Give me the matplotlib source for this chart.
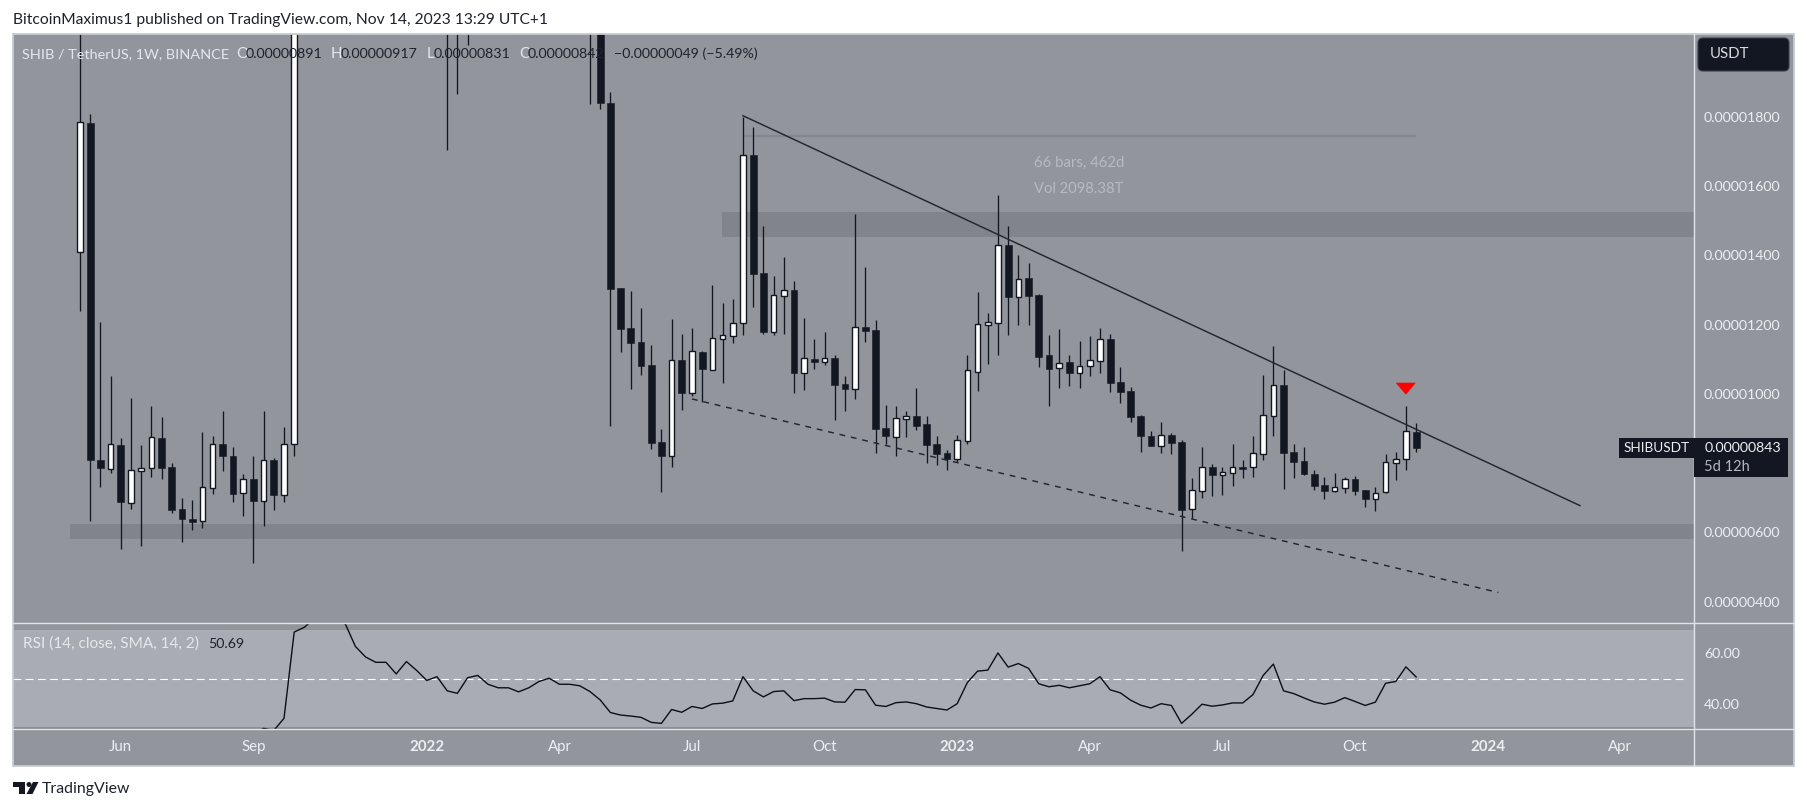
import numpy as np
import matplotlib
matplotlib.use('Agg')
import matplotlib.pyplot as plt
from matplotlib.patches import FancyBboxPatch, Rectangle, Polygon, Circle

plt.rcParams['font.family'] = ['Lato', 'DejaVu Sans']

nan = float('nan')

# weekly candles, prices in 1e-6 USDT, nan = off the top of the chart
opens = [14.09, 17.82, 8.09, 7.84, 8.52, 6.84, 7.78, 7.85, 8.73, 7.89,
         6.67, 6.39, 6.32, 7.29, 8.55, 8.20, 7.13, 7.54, 6.89, 8.09,
         7.09, 8.54, nan, nan, nan, nan, nan, nan, nan, nan,
         nan, nan, nan, nan, nan, nan, nan, nan, nan, nan,
         nan, nan, nan, nan, nan, nan, nan, nan, nan, nan,
         nan, 24.00, 18.40, 13.05, 11.90, 11.50, 10.83, 8.61, 8.21, 10.98,
         10.03, 11.20, 10.70, 11.59, 11.68, 12.04, 16.90, 13.49, 11.79, 12.83,
         13.00, 10.61, 11.01, 10.93, 11.03, 10.28, 10.15, 11.93, 11.84, 9.01,
         8.76, 9.28, 9.36, 9.13, 8.55, 8.29, 8.13, 8.65, 10.64, 11.99,
         12.05, 14.30, 12.80, 13.33, 12.85, 11.12, 10.73, 10.91, 10.61, 10.79,
         10.96, 11.58, 10.34, 10.08, 9.36, 8.77, 8.50, 8.81, 8.61, 6.66,
         7.20, 7.89, 7.64, 7.72, 7.89, 7.88, 8.27, 9.37, 10.26, 8.32,
         8.06, 7.69, 7.37, 7.20, 7.29, 7.54, 7.22, 6.97, 7.15, 8.01,
         8.13, 8.91]
highs = [22.00, 18.08, 12.07, 10.52, 8.73, 9.88, 8.52, 9.65, 9.33, 7.99,
         6.99, 6.93, 8.90, 8.78, 9.50, 8.47, 7.69, 8.21, 9.50, 8.14,
         9.04, 27.00, nan, nan, nan, nan, nan, nan, nan, nan,
         nan, nan, nan, nan, nan, nan, 30.00, 30.00, 30.00, nan,
         nan, nan, nan, nan, nan, nan, nan, nan, nan, nan,
         30.00, 25.00, 18.71, 13.05, 12.97, 12.48, 11.41, 8.98, 12.16, 11.73,
         11.90, 11.24, 13.14, 12.61, 12.74, 18.00, 17.70, 14.85, 13.40, 13.95,
         13.26, 12.19, 11.58, 11.79, 11.12, 10.52, 15.19, 13.66, 12.13, 9.68,
         9.65, 9.50, 10.17, 9.36, 8.78, 8.38, 8.81, 11.12, 12.94, 12.33,
         15.74, 14.85, 14.01, 13.77, 12.88, 11.70, 11.86, 11.12, 11.53, 11.67,
         11.90, 11.73, 10.77, 10.20, 9.40, 8.92, 9.18, 8.87, 8.67, 7.56,
         8.47, 7.97, 7.88, 8.55, 8.09, 8.77, 10.54, 11.38, 10.69, 8.55,
         8.47, 7.80, 7.60, 7.71, 7.60, 7.63, 7.22, 7.31, 8.26, 8.32,
         9.65, 9.17]
lows = [12.39, 6.33, 7.32, 7.72, 5.53, 6.68, 5.61, 7.61, 7.54, 6.57,
        5.73, 6.07, 6.13, 7.11, 7.77, 6.86, 6.47, 5.12, 6.18, 6.63,
        6.86, 8.21, nan, nan, nan, nan, nan, nan, nan, nan,
        nan, nan, nan, nan, nan, nan, 17.04, 18.66, 20.07, nan,
        nan, nan, nan, nan, nan, nan, nan, nan, nan, nan,
        18.37, 18.22, 9.07, 11.21, 10.14, 10.54, 8.41, 7.17, 7.89, 9.53,
        9.94, 9.77, 10.70, 10.32, 11.48, 11.70, 12.51, 11.73, 11.70, 11.73,
        10.03, 10.11, 10.72, 10.83, 9.24, 9.50, 9.85, 11.50, 8.30, 8.55,
        8.19, 8.75, 8.96, 8.00, 7.95, 7.80, 8.03, 8.55, 10.08, 10.86,
        11.12, 11.71, 11.99, 11.99, 10.78, 9.65, 10.17, 10.23, 10.17, 10.52,
        10.60, 10.05, 9.73, 9.19, 8.33, 8.49, 8.30, 8.26, 5.46, 6.41,
        7.00, 7.06, 7.09, 7.35, 7.57, 7.60, 8.10, 8.78, 7.26, 7.57,
        7.66, 7.22, 6.96, 7.16, 7.14, 7.08, 6.73, 6.62, 7.12, 7.51,
        7.80, 8.31]
closes = [17.85, 8.09, 7.87, 8.54, 6.86, 7.79, 7.85, 8.74, 7.87, 6.63,
          6.37, 6.31, 7.30, 8.54, 8.19, 7.11, 7.53, 6.89, 8.08, 7.08,
          8.54, 25.00, nan, nan, nan, nan, nan, nan, nan, nan,
          nan, nan, nan, nan, nan, nan, nan, nan, nan, nan,
          nan, nan, nan, nan, nan, nan, nan, nan, nan, nan,
          nan, 18.40, 13.03, 11.87, 11.48, 10.80, 8.58, 8.21, 10.97, 10.03,
          11.23, 10.72, 11.60, 11.69, 12.04, 16.89, 13.47, 11.79, 12.84, 12.99,
          10.61, 11.03, 10.92, 11.03, 10.26, 10.14, 11.92, 11.81, 8.98, 8.79,
          9.29, 9.35, 9.07, 8.52, 8.26, 8.12, 8.66, 10.68, 12.01, 12.07,
          14.29, 12.80, 13.31, 12.82, 11.07, 10.72, 10.90, 10.61, 10.79, 10.97,
          11.57, 10.31, 10.05, 9.33, 8.78, 8.49, 8.80, 8.58, 6.65, 7.21,
          7.88, 7.66, 7.73, 7.88, 7.84, 8.28, 9.38, 10.25, 8.29, 8.03,
          7.69, 7.34, 7.19, 7.30, 7.53, 7.19, 6.96, 7.13, 8.02, 8.11,
          8.92, 8.43]

# RSI by bar, first values are under the pane
rsi = [nan, nan, nan, nan, nan, nan, nan, nan, nan, nan,
       nan, nan, nan, nan, nan, nan, nan, 28.0, 30.3, 29.5,
       34.3, 68.5, 70.4, 74.0, 75.0, 73.5, 71.8, 62.8, 58.6, 56.5,
       56.5, 51.9, 56.8, 53.3, 49.3, 50.8, 45.2, 44.2, 50.4, 51.3,
       47.8, 46.4, 46.4, 44.8, 46.4, 48.9, 50.2, 47.8, 47.8, 47.2,
       44.9, 41.6, 36.6, 35.6, 35.2, 34.7, 32.7, 32.3, 37.8, 36.7,
       39.0, 38.2, 40.0, 40.3, 41.2, 50.8, 45.2, 42.8, 44.9, 45.2,
       41.3, 42.1, 42.1, 42.3, 40.8, 40.7, 45.7, 45.6, 39.5, 39.0,
       40.5, 40.8, 40.1, 38.8, 38.2, 37.6, 40.1, 48.5, 53.0, 53.4,
       60.2, 54.6, 56.0, 54.1, 48.0, 46.8, 47.4, 46.4, 47.2, 48.0,
       50.8, 45.6, 44.4, 41.5, 39.5, 38.4, 40.1, 39.4, 32.3, 35.9,
       39.9, 39.1, 39.6, 40.4, 40.4, 43.7, 51.3, 55.8, 45.2, 44.1,
       42.4, 40.8, 39.9, 40.7, 42.5, 41.0, 39.4, 40.7, 48.2, 48.9,
       54.7, 50.69]

# the 0.00000800 tick sits under the last price label in the reference
price_ticks = [18, 16, 14, 12, 10, 6, 4]
price_labels = ['0.00001800', '0.00001600', '0.00001400', '0.00001200',
                '0.00001000', '0.00000600', '0.00000400']
rsi_ticks = [60, 40]
rsi_labels = ['60.00', '40.00']
time_ticks = [4, 17, 34, 47, 60, 73, 86, 99, 112, 125, 138, 151]
time_labels = ['Jun', 'Sep', '2022', 'Apr', 'Jul', 'Oct', '2023', 'Apr', 'Jul', 'Oct', '2024', 'Apr']

# drawings on the chart
upper_trend_x, upper_trend_y = [65, 147.06], [18.03, 6.77]
lower_trend_x, lower_trend_y = [60, 139.06], [9.85, 4.26]
range_x, range_y = [65, 131], [17.44, 17.44]
upper_zone_x, upper_zone_y = [62.9, 158.3], [14.53, 15.25]
lower_zone_x, lower_zone_y = [-0.98, 158.3], [5.81, 6.24]
arrow_x, arrow_y = [129.05, 130.9, 130.0], [10.31, 10.31, 9.99]

BG = '#93959d'
ZONE = '#82848c'
RSI_BG = '#aaacb5'
DARK = '#131722'
LINE = '#e3e4e9'
EDGE = '#c9cbd3'
LIGHT = '#e6e7ea'
FONT = 10.2

W, H = 1807, 810
fig = plt.figure(figsize=(W / 100, H / 100), dpi=100, facecolor='white')


def pane(x0, y0, x1, y1):
    return fig.add_axes([x0 / W, 1 - y1 / H, (x1 - x0) / W, (y1 - y0) / H])


# grey card behind the panes and axis strips
card = pane(13, 34, 1794, 766)
card.set_facecolor(BG)
card.set_zorder(-1)
card.set_xticks([])
card.set_yticks([])
for s in card.spines.values():
    s.set_visible(False)

ax = pane(13, 34, 1694, 623)
ax_rsi = pane(13, 623, 1694, 729)

x = np.arange(len(opens))
o, h, l, c = map(np.array, (opens, highs, lows, closes))

ax.set_facecolor(BG)
ax.fill_between(upper_zone_x, *upper_zone_y, color=ZONE, lw=0, zorder=1)
ax.fill_between(lower_zone_x, *lower_zone_y, color=ZONE, lw=0, zorder=1)
ax.plot(range_x, range_y, color='#84868e', lw=1.5, solid_capstyle='butt', zorder=1.5)

ax.vlines(x, l, h, color=DARK, lw=0.95, zorder=2)
up = c >= o
down = c < o
ax.bar(x[up], (c - o)[up], bottom=o[up], width=0.56, color='white', edgecolor=DARK, lw=1.0, zorder=3)
ax.bar(x[down], (o - c)[down], bottom=c[down], width=0.66, color=DARK, edgecolor=DARK, lw=0.4, zorder=3)

ax.plot(upper_trend_x, upper_trend_y, color='#23262f', lw=1.05, zorder=4)
ax.plot(lower_trend_x, lower_trend_y, color='#23262f', lw=1.05, ls=(0, (4, 4)), zorder=4)
ax.fill(arrow_x, arrow_y, color='#ff0000', lw=0.5, zorder=5)

ax.set_xlim(-6.57, 158.24)
ax.set_ylim(3.38, 20.39)
ax.set_yticks(price_ticks)
ax.set_yticklabels(price_labels)
ax.set_xticks([])

ax_rsi.set_facecolor(BG)
ax_rsi.fill_between([-6.57, 158.24], 30.4, 69.4, color=RSI_BG, lw=0, zorder=1)
ax_rsi.plot([-6.57, 158.24], [30.4, 30.4], color='#83858d', lw=1.1, zorder=1.5)
ax_rsi.plot([-6.57, 157.6], [50, 50], color='white', lw=0.8, ls=(0, (7, 4)), zorder=2)
ax_rsi.plot(x, rsi, color='#0d0f15', lw=1.0, zorder=3)
ax_rsi.set_xlim(-6.57, 158.24)
ax_rsi.set_ylim(30.07, 72.08)
ax_rsi.set_yticks(rsi_ticks)
ax_rsi.set_yticklabels(rsi_labels)
ax_rsi.set_xticks(time_ticks)
ax_rsi.set_xticklabels(time_labels)
for t, s in zip(ax_rsi.get_xticklabels(), time_labels):
    if s.isdigit():
        t.set_fontweight('bold')

for a in (ax, ax_rsi):
    a.yaxis.tick_right()
    a.tick_params(axis='y', length=0, pad=7.2, labelsize=FONT, labelcolor='#eceef1')
    a.tick_params(axis='x', length=0, pad=8, labelsize=10.8, labelcolor='#eceef1')
    for s in a.spines.values():
        s.set_visible(False)

# everything around the panes, laid out in pixels
px = fig.add_axes([0, 0, 1, 1], zorder=5)
px.set_xlim(0, W)
px.set_ylim(H, 0)
px.axis('off')
px.patch.set_visible(False)

px.plot([13, 1794, 1794, 13, 13], [34, 34, 766, 766, 34], color=EDGE, lw=1.3, zorder=1)
px.plot([13, 1794], [623, 623], color=LINE, lw=1.0, zorder=1)
px.plot([13, 1794], [729, 729], color=LINE, lw=1.0, zorder=1)
px.plot([1694, 1694], [34, 766], color=LINE, lw=1.0, zorder=1)


def label(x_pos, y_pos, s, color=LIGHT, ha='left', size=FONT, **kw):
    px.text(x_pos, y_pos, s, color=color, ha=ha, va='center', fontsize=size, zorder=6, **kw)


label(13, 20, 'BitcoinMaximus1 published on TradingView.com, Nov 14, 2023 13:29 UTC+1', color='#1e222d', size=11.25)

label(22.5, 54, 'SHIB / TetherUS, 1W, BINANCE', size=10.4)
for lx, vx, name, val in [(236, 246, 'O', '0.00000891'), (331, 341, 'H', '0.00000917'),
                          (426.5, 434, 'L', '0.00000831'), (519, 528, 'C', '0.00000842')]:
    label(lx, 54, name, size=10.8)
    label(vx, 54, val, color='#1e222d')
label(614, 54, '\u22120.00000049 (\u22125.49%)', color='#1e222d')

label(23, 644, 'RSI (14, close, SMA, 14, 2)', size=11.1)
label(208, 644, '50.69', color='#1e222d')

label(1079, 163, '66 bars, 462d', color='#b8bac2', ha='center', size=10.8)
label(1079, 189, 'Vol 2098.38T', color='#b8bac2', ha='center', size=10.6)

px.add_patch(FancyBboxPatch((1700, 40), 87, 29, boxstyle='round,pad=2,rounding_size=5',
                            fc=DARK, ec='#3a3d48', lw=0.8, zorder=5))
label(1710, 54.5, 'USDT', color='#d8d9dd', size=10.8)

px.add_patch(Rectangle((1618.6, 438), 76, 20, fc=DARK, ec='none', zorder=5))
px.add_patch(Rectangle((1694.5, 438), 93.5, 38.7, fc=DARK, ec='none', zorder=5))
label(1623.6, 448.5, 'SHIBUSDT', color='#eceef1', size=9.8)
label(1704.5, 448.5, '0.00000843', color='#eceef1')
label(1704.5, 466.7, '5d 12h', color='#b5b7be', size=10.5)

# TradingView logo
px.add_patch(Polygon([(13, 782), (25.5, 782), (25.5, 794), (19, 794), (19, 787), (13, 787)], fc='#131722', ec='none'))
px.add_patch(Circle((29, 784.5), 2.5, fc='#131722', ec='none'))
px.add_patch(Polygon([(33, 782), (38.5, 782), (32.5, 794), (26.5, 794)], fc='#131722', ec='none'))
label(42, 788.5, 'TradingView', color='#1e222d', size=11.4)

fig.savefig('out.png', dpi=100)
